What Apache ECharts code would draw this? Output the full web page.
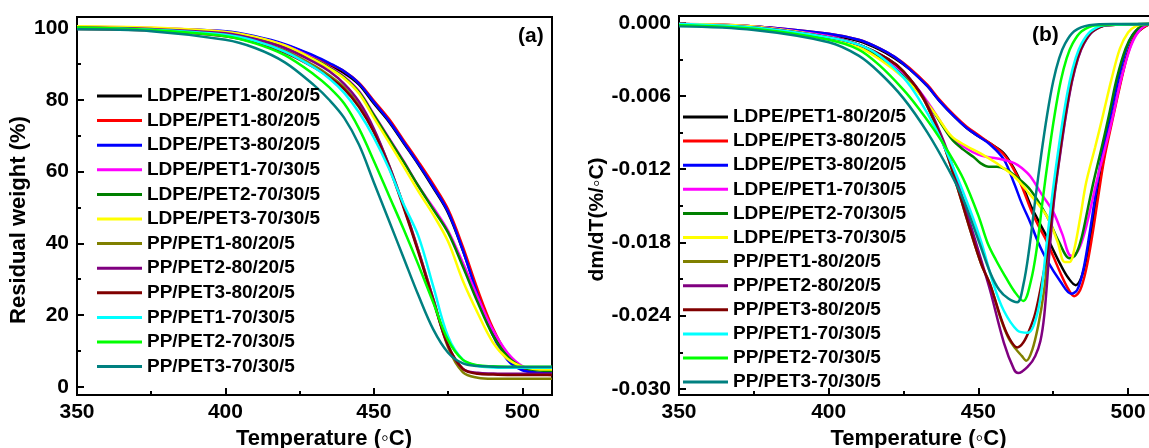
<!DOCTYPE html>
<html><head><meta charset="utf-8">
<script src="https://cdn.jsdelivr.net/npm/echarts@6/dist/echarts.min.js"></script>
<style>html,body{margin:0;padding:0;background:#fff}#c{width:1149px;height:448px}</style>
</head><body><div id="c"></div>
<script>
// ---------- shared ----------
const seriesColors = ['#000000','#ff0000','#0000ff','#ff00ff','#008000','#ffff00','#808000','#800080','#800000','#00ffff','#00ff00','#008080'];
const tempTicks = [350, 400, 450, 500];
const tempMinorTicks = [375, 425, 475];

// ---------- (a) TGA ----------
const tgaLegend = ['LDPE/PET1-80/20/5','LDPE/PET1-80/20/5','LDPE/PET3-80/20/5','LDPE/PET1-70/30/5','LDPE/PET2-70/30/5','LDPE/PET3-70/30/5','PP/PET1-80/20/5','PP/PET2-80/20/5','PP/PET3-80/20/5','PP/PET1-70/30/5','PP/PET2-70/30/5','PP/PET3-70/30/5'];
const tgaTicks = [0, 20, 40, 60, 80, 100];
const tgaMinorTicks = [10, 30, 50, 70, 90];
const tgaTemp = [350, 375, 400, 410, 420, 430, 435, 440, 445, 450, 455, 460, 465, 470, 475, 480, 485, 490, 495, 500, 505, 510];
const tgaBlack   = [100.1, 99.8, 98.8, 97.3, 95.0, 91.6, 89.6, 87.5, 84.3, 79.0, 74.0, 68.0, 62.0, 55.5, 48.5, 38.0, 26.0, 15.5, 8.5, 5.0, 3.8, 3.5];
const tgaRed     = [100.1, 99.9, 99.0, 97.6, 95.4, 92.1, 90.1, 88.0, 84.8, 79.8, 74.8, 68.8, 62.8, 56.5, 49.5, 39.0, 27.0, 16.5, 9.0, 5.0, 3.6, 3.3];
const tgaBlue    = [100.3, 100.0, 99.2, 97.8, 95.6, 92.3, 90.3, 88.0, 84.6, 79.4, 74.3, 68.3, 62.2, 55.8, 48.8, 38.0, 25.5, 14.5, 7.5, 4.6, 4.0, 3.9];
const tgaMagenta = [100.4, 100.1, 99.0, 97.5, 95.2, 91.5, 89.2, 86.5, 82.5, 76.0, 69.5, 63.0, 56.0, 50.0, 43.5, 34.5, 25.0, 16.0, 9.5, 5.8, 4.8, 4.6];
const tgaDkGreen = [100.2, 99.9, 98.9, 97.4, 95.0, 91.3, 89.0, 86.3, 82.2, 75.8, 69.3, 62.8, 56.0, 49.5, 43.0, 33.5, 23.5, 14.5, 8.5, 5.5, 4.6, 4.4];
const tgaYellow  = [100.6, 100.2, 99.0, 97.6, 95.2, 91.2, 88.8, 86.0, 81.8, 75.0, 68.3, 61.5, 54.5, 48.0, 40.5, 29.5, 20.5, 12.5, 7.8, 5.6, 4.9, 4.8];
const tgaOlive   = [100.0, 99.6, 98.2, 96.5, 93.8, 89.5, 86.8, 83.5, 78.5, 71.5, 62.0, 50.5, 38.0, 24.5, 11.0, 4.0, 2.5, 2.2, 2.2, 2.2, 2.2, 2.2];
const tgaPurple  = [100.2, 99.8, 98.6, 97.0, 94.5, 90.5, 88.0, 84.5, 79.5, 72.0, 62.0, 50.5, 38.0, 24.5, 11.5, 5.0, 3.9, 3.7, 3.6, 3.6, 3.6, 3.6];
const tgaDarkRed = [99.8, 99.4, 97.8, 96.0, 93.2, 89.0, 86.3, 83.0, 78.0, 71.0, 61.5, 50.0, 37.5, 24.0, 11.5, 5.0, 3.6, 3.4, 3.3, 3.3, 3.3, 3.3];
const tgaCyan    = [100.0, 99.6, 98.2, 96.5, 93.5, 89.0, 86.0, 82.0, 76.5, 69.5, 61.0, 51.0, 42.0, 28.0, 14.0, 7.5, 5.8, 5.4, 5.3, 5.3, 5.3, 5.3];
const tgaGreen   = [100.2, 99.5, 97.8, 95.8, 92.5, 87.0, 83.5, 79.0, 72.0, 63.0, 53.5, 44.0, 34.0, 23.5, 13.0, 7.5, 6.0, 5.7, 5.6, 5.6, 5.6, 5.6];
const tgaTeal    = [99.7, 99.2, 96.8, 94.5, 90.5, 84.0, 80.0, 75.0, 67.5, 57.0, 46.5, 36.0, 25.5, 16.0, 9.5, 6.5, 5.8, 5.6, 5.5, 5.5, 5.5, 5.5];

// ---------- (b) DTG  [temperature, dm/dT] ----------
const dtgLegend = ['LDPE/PET1-80/20/5','LDPE/PET3-80/20/5','LDPE/PET3-80/20/5','LDPE/PET1-70/30/5','LDPE/PET2-70/30/5','LDPE/PET3-70/30/5','PP/PET1-80/20/5','PP/PET2-80/20/5','PP/PET3-80/20/5','PP/PET1-70/30/5','PP/PET2-70/30/5','PP/PET3-70/30/5'];
const dtgTicks = [0, -0.006, -0.012, -0.018, -0.024, -0.030];
const dtgMinorTicks = [-0.003, -0.009, -0.015, -0.021, -0.027];
const dtgBlack = [[350,-0.0001],[375,-0.0003],[400,-0.0010],[410,-0.0015],[417,-0.0022],[422,-0.0029],[427,-0.0038],[433,-0.0052],[437,-0.0064],[442,-0.0077],[446,-0.0086],[450,-0.0093],[454,-0.0099],[458.5,-0.0107],[462,-0.0120],[465,-0.0135],[467.5,-0.0150],[470,-0.0162],[473,-0.0176],[477.4,-0.0198],[480,-0.0209],[482.5,-0.0215],[484.5,-0.0208],[486.5,-0.0188],[488.5,-0.0160],[490.5,-0.0130],[492.5,-0.0103],[495,-0.0075],[497.5,-0.0048],[500,-0.0024],[502.5,-0.0010],[505,-0.0004],[508,-0.0001],[510,-0.0001]];
const dtgRed = [[350,-0.0001],[375,-0.0003],[400,-0.0009],[410,-0.0014],[417,-0.0021],[422,-0.0028],[427,-0.0037],[433,-0.0051],[437,-0.0063],[442,-0.0076],[446,-0.0085],[450,-0.0092],[454,-0.0099],[458.5,-0.0108],[462,-0.0121],[465,-0.0137],[467.5,-0.0153],[470,-0.0166],[473,-0.0180],[477.4,-0.0205],[480,-0.0218],[482,-0.0224],[484,-0.0219],[486,-0.0202],[488,-0.0175],[490,-0.0143],[492,-0.0112],[494.5,-0.0083],[497,-0.0055],[500,-0.0025],[502.5,-0.0010],[505,-0.0004],[508,-0.0001],[510,-0.0001]];
const dtgBlue = [[350,-0.0001],[375,-0.0003],[400,-0.0009],[410,-0.0014],[417,-0.0021],[422,-0.0028],[427,-0.0038],[433,-0.0052],[437,-0.0064],[442,-0.0077],[446,-0.0086],[450,-0.0093],[454,-0.0100],[458.5,-0.0112],[462,-0.0132],[464.5,-0.0148],[467.4,-0.0164],[470,-0.0180],[473,-0.0195],[477.4,-0.0212],[481,-0.0222],[483,-0.0219],[485,-0.0203],[487,-0.0175],[489,-0.0143],[491,-0.0112],[493.5,-0.0083],[496,-0.0055],[499,-0.0025],[501.5,-0.0010],[504,-0.0004],[507,-0.0001],[510,-0.0001]];
const dtgMagenta = [[350,-0.0001],[375,-0.0003],[400,-0.0011],[410,-0.0018],[417,-0.0027],[425,-0.0042],[430,-0.0055],[435,-0.0072],[441,-0.0094],[446,-0.0103],[450,-0.0108],[453,-0.0110],[458,-0.0112],[462,-0.0115],[464.5,-0.0119],[467.4,-0.0126],[471,-0.0140],[475,-0.0155],[478,-0.0173],[481,-0.0191],[483,-0.0188],[485,-0.0176],[487,-0.0157],[489.5,-0.0130],[492.5,-0.0101],[495,-0.0076],[497.5,-0.0048],[500.5,-0.0022],[503,-0.0009],[506,-0.0002],[510,-0.0001]];
const dtgDkGreen = [[350,-0.0002],[375,-0.0004],[400,-0.0012],[410,-0.0019],[417,-0.0028],[425,-0.0044],[430,-0.0057],[435,-0.0073],[441,-0.0095],[445,-0.0104],[448.4,-0.0110],[450.7,-0.0115],[453.5,-0.0118],[456.2,-0.0118],[459,-0.0120],[462,-0.0125],[467.4,-0.0137],[473,-0.0159],[477,-0.0180],[480.5,-0.0193],[482.5,-0.0190],[484.5,-0.0176],[486.5,-0.0153],[488.5,-0.0130],[491.3,-0.0101],[493.6,-0.0076],[496.3,-0.0045],[499.2,-0.0021],[501.8,-0.0009],[505,-0.0002],[510,-0.0001]];
const dtgYellow = [[350,-0.0001],[375,-0.0003],[400,-0.0012],[410,-0.0020],[417,-0.0030],[425,-0.0045],[430.6,-0.0059],[436,-0.0076],[441,-0.0093],[446,-0.0101],[450.7,-0.0107],[456,-0.0115],[462,-0.0126],[467,-0.0140],[473,-0.0159],[476.5,-0.0180],[478.8,-0.0196],[480.5,-0.0196],[482,-0.0186],[484,-0.0160],[486,-0.0131],[489,-0.0102],[491.6,-0.0076],[494.5,-0.0046],[497.3,-0.0021],[500,-0.0008],[502.5,-0.0003],[506,-0.0001],[510,-0.0001]];
const dtgOlive = [[350,-0.0002],[375,-0.0004],[400,-0.0012],[410,-0.0018],[420,-0.0030],[425,-0.0040],[431.6,-0.0062],[438.4,-0.0100],[443,-0.0135],[447.3,-0.0170],[451,-0.0198],[454,-0.0215],[457.4,-0.0242],[460,-0.0258],[462.4,-0.0267],[464.5,-0.0273],[466,-0.0277],[468,-0.0268],[470,-0.0248],[471.8,-0.0222],[473.3,-0.0190],[475.2,-0.0145],[477.2,-0.0108],[479.2,-0.0075],[481.2,-0.0048],[483.2,-0.0029],[485.2,-0.0017],[488.2,-0.0007],[493,-0.0002],[510,-0.0001]];
const dtgPurple = [[350,-0.0002],[375,-0.0004],[400,-0.0012],[410,-0.0018],[420,-0.0030],[425,-0.0040],[431.6,-0.0061],[438.4,-0.0097],[443,-0.0130],[447.3,-0.0165],[451,-0.0195],[454,-0.0220],[458.5,-0.0262],[461.9,-0.0284],[463.3,-0.0287],[466.8,-0.0281],[469,-0.0273],[470.7,-0.0261],[472,-0.0240],[473.5,-0.0195],[475.3,-0.0145],[477.3,-0.0108],[479.3,-0.0075],[481.3,-0.0048],[483.3,-0.0029],[485.3,-0.0017],[488.3,-0.0007],[493,-0.0002],[510,-0.0001]];
const dtgDarkRed = [[350,-0.0002],[375,-0.0004],[400,-0.0012],[410,-0.0018],[420,-0.0030],[425,-0.0040],[431.6,-0.0062],[438.4,-0.0100],[443,-0.0135],[447.3,-0.0170],[451,-0.0198],[454,-0.0215],[457.4,-0.0241],[460,-0.0257],[463,-0.0266],[465,-0.0262],[467,-0.0252],[469,-0.0238],[471,-0.0215],[473,-0.0188],[475,-0.0145],[477,-0.0108],[479,-0.0075],[481,-0.0048],[483,-0.0029],[485,-0.0017],[488,-0.0007],[493,-0.0002],[510,-0.0001]];
const dtgCyan = [[350,-0.0001],[375,-0.0004],[400,-0.0012],[410,-0.0018],[417,-0.0027],[425,-0.0045],[430,-0.0062],[436,-0.0088],[441,-0.0115],[447,-0.0152],[451,-0.0180],[455,-0.0214],[458.5,-0.0236],[463,-0.0252],[466.5,-0.0254],[468.5,-0.0248],[470.7,-0.0226],[472.5,-0.0188],[474.5,-0.0145],[476.5,-0.0108],[478.5,-0.0075],[480.5,-0.0048],[482.5,-0.0029],[484.5,-0.0017],[487.5,-0.0007],[492,-0.0002],[510,-0.0001]];
const dtgGreen = [[350,-0.0002],[375,-0.0005],[400,-0.0014],[410,-0.0022],[417,-0.0035],[425,-0.0055],[430,-0.0070],[435,-0.0087],[440,-0.0106],[445,-0.0128],[450,-0.0158],[453,-0.0180],[456,-0.0195],[459,-0.0208],[462,-0.0220],[465,-0.0228],[467.5,-0.0212],[469.5,-0.0185],[471.5,-0.0145],[473.5,-0.0108],[475.5,-0.0075],[477.5,-0.0048],[479.5,-0.0029],[481.5,-0.0017],[484.5,-0.0007],[489.5,-0.0002],[510,-0.0001]];
const dtgTeal = [[350,-0.0003],[375,-0.0006],[400,-0.0016],[410,-0.0027],[417,-0.0041],[425,-0.0062],[433,-0.0090],[440,-0.0120],[445,-0.0145],[450,-0.0178],[454,-0.0205],[457,-0.0219],[460,-0.0226],[463,-0.0229],[465,-0.0215],[467,-0.0185],[469,-0.0145],[471,-0.0108],[473,-0.0075],[475,-0.0048],[477,-0.0029],[479,-0.0017],[482,-0.0007],[487,-0.0002],[495,-0.0001],[510,-0.0001]];

const tgaValues = [tgaBlack, tgaRed, tgaBlue, tgaMagenta, tgaDkGreen, tgaYellow, tgaOlive, tgaPurple, tgaDarkRed, tgaCyan, tgaGreen, tgaTeal];
const dtgValues = [dtgBlack, dtgRed, dtgBlue, dtgMagenta, dtgDkGreen, dtgYellow, dtgOlive, dtgPurple, dtgDarkRed, dtgCyan, dtgGreen, dtgTeal];

// unique series names (legend texts repeat; trailing spaces keep them distinct, invisibly)
const seen = {};
function uniqueName(n) { const k = seen[n] || 0; seen[n] = k + 1; return n + ' '.repeat(k); }
const tgaNames = tgaLegend.map(uniqueName);
const dtgNames = dtgLegend.map(uniqueName);

const FONT = '"Liberation Sans", Arial, sans-serif';
const labelStyle = { color: '#000', fontFamily: FONT, fontWeight: 'bold', fontSize: 21 };
const nameStyle = { color: '#000', fontFamily: FONT, fontWeight: 'bold', fontSize: 22 };
const axisLine = { show: true, onZero: false, lineStyle: { color: '#000', width: 2 } };
const hiddenLine = { show: false, onZero: false };
const tickLine = { color: '#000', width: 2 };

const TGA_Y = [-2.3, 103.15];
const DTG_Y = [-0.0305, 0.00055];
const gridA = { left: 77, top: 17, width: 475, height: 378, outerBoundsMode: 'none', containLabel: false };
const gridB = { left: 679, top: 16, width: 479, height: 379, outerBoundsMode: 'none', containLabel: false };

function mainX(grid, namePad) {
  return {
    type: 'value', gridIndex: grid, min: 350, max: 510, position: 'bottom',
    axisLine, splitLine: { show: false },
    axisTick: { show: true, inside: true, length: 7, lineStyle: tickLine, customValues: tempTicks },
    axisLabel: { show: true, margin: 7, ...labelStyle, customValues: tempTicks },
    name: 'Temperature (\u25E6C)', nameLocation: 'middle', nameGap: 29,
    nameTextStyle: { ...nameStyle, padding: namePad }
  };
}
function minorX(grid) {
  return {
    type: 'value', gridIndex: grid, min: 350, max: 510, position: 'bottom',
    axisLine: hiddenLine, splitLine: { show: false }, axisLabel: { show: false },
    axisTick: { show: true, inside: true, length: 4, lineStyle: tickLine, customValues: tempMinorTicks }
  };
}
function minorY(grid, range, vals) {
  return {
    type: 'value', gridIndex: grid, min: range[0], max: range[1], position: 'left',
    axisLine: hiddenLine, splitLine: { show: false }, axisLabel: { show: false },
    axisTick: { show: true, inside: true, length: 4, lineStyle: tickLine, customValues: vals }
  };
}

const series = [];
tgaValues.forEach((vals, i) => {
  series.push({
    type: 'line', name: tgaNames[i], xAxisIndex: 0, yAxisIndex: 0,
    data: tgaTemp.map((t, j) => [t, vals[j]]),
    showSymbol: false, symbol: 'none', smooth: 0.35, color: seriesColors[i],
    lineStyle: { width: 2.5, color: seriesColors[i] }, emphasis: { disabled: true }, silent: true
  });
});
dtgValues.forEach((vals, i) => {
  series.push({
    type: 'line', name: dtgNames[i], xAxisIndex: 1, yAxisIndex: 1,
    data: vals,
    showSymbol: false, symbol: 'none', smooth: 0.35, color: seriesColors[i],
    lineStyle: { width: 2.5, color: seriesColors[i] }, emphasis: { disabled: true }, silent: true
  });
});

const legendText = { color: '#000', fontFamily: FONT, fontWeight: 'bold', fontSize: 19, lineHeight: 20 };
const option = {
  animation: false,
  backgroundColor: '#fff',
  grid: [
    { ...gridA, show: true, borderColor: '#000', borderWidth: 2, backgroundColor: 'transparent' },
    { ...gridB, show: true, borderColor: '#000', borderWidth: 2, backgroundColor: 'transparent' },
    { ...gridA, show: false },   // overlay carrying the minor ticks of (a)
    { ...gridB, show: false }    // overlay carrying the minor ticks of (b)
  ],
  xAxis: [ mainX(0, [0, 0, 0, 19]), mainX(1, [0, 0, 0, 0]), minorX(2), minorX(3) ],
  yAxis: [
    { type: 'value', gridIndex: 0, min: TGA_Y[0], max: TGA_Y[1], position: 'left', axisLine, splitLine: { show: false },
      axisTick: { show: true, inside: true, length: 7, lineStyle: tickLine, customValues: tgaTicks },
      axisLabel: { show: true, margin: 8, ...labelStyle, customValues: tgaTicks },
      name: 'Residual weight (%)', nameLocation: 'middle', nameGap: 44,
      nameTextStyle: { ...nameStyle, padding: [0, 28, 0, 0] } },
    { type: 'value', gridIndex: 1, min: DTG_Y[0], max: DTG_Y[1], position: 'left', axisLine, splitLine: { show: false },
      axisTick: { show: true, inside: true, length: 7, lineStyle: tickLine, customValues: dtgTicks },
      axisLabel: { show: true, margin: 8, ...labelStyle, customValues: dtgTicks, formatter: v => Number(v).toFixed(3) },
      name: 'dm/dT(%/\u25E6C)', nameLocation: 'middle', nameGap: 70,
      nameTextStyle: { ...nameStyle, fontSize: 21, padding: [0, 28, 0, 0] } },
    minorY(2, TGA_Y, tgaMinorTicks),
    minorY(3, DTG_Y, dtgMinorTicks)
  ],
  legend: [
    { orient: 'vertical', left: 97, top: 86, padding: 0, itemGap: 4.6, itemWidth: 45, itemHeight: 3, icon: 'rect',
      selectedMode: false, data: tgaNames, textStyle: legendText },
    { orient: 'vertical', left: 683, top: 107, padding: 0, itemGap: 4.1, itemWidth: 45, itemHeight: 3, icon: 'rect',
      selectedMode: false, data: dtgNames, textStyle: legendText }
  ],
  graphic: [
    { type: 'text', left: 518, top: 26, silent: true, style: { text: '(a)', fill: '#000', font: 'bold 21px ' + FONT } },
    { type: 'text', left: 1032, top: 25, silent: true, style: { text: '(b)', fill: '#000', font: 'bold 21px ' + FONT } }
  ],
  series
};
const chart = echarts.init(document.getElementById('c'), null, { renderer: 'canvas' });
chart.setOption(option);
</script></body></html>
